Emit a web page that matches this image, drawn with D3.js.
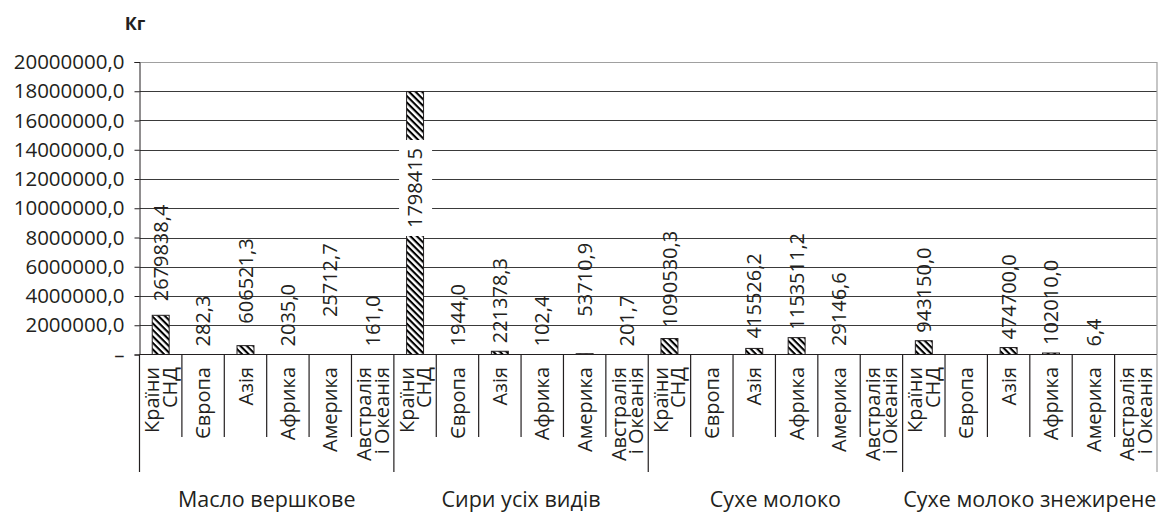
<!DOCTYPE html>
<html>
<head>
<meta charset="utf-8">
<script src="https://cdn.jsdelivr.net/npm/d3@7"></script>
<style>
  body { margin: 0; background: #fff; }
  svg { display: block; }
  text { font-family: "Open Sans", sans-serif; fill: #231f20; }
</style>
</head>
<body>
<svg id="chart" width="1159" height="514"></svg>
<script>
// data
const groups = ["Масло вершкове", "Сири усіх видів", "Сухе молоко", "Сухе молоко знежирене"];
const regions = [["Країни", "СНД"], ["Європа"], ["Азія"], ["Африка"], ["Америка"], ["Австралія", "і Океанія"]];

const butter = [2679838.4, 282.3, 606521.3, 2035.0, 25712.7, 161.0];
const cheese = [17984150.0, 1944.0, 221378.3, 102.4, 53710.9, 201.7];
const milk = [1090530.3, null, 415526.2, 1153511.2, 29146.6, null];
const skim = [943150.0, null, 474700.0, 102010.0, 6.4, null];

const yTicks = [0, 2000000, 4000000, 6000000, 8000000, 10000000, 12000000, 14000000, 16000000, 18000000, 20000000];

// labels as printed (the big cheese label got cut by its box)
const butterLabels = ["2679838,4", "282,3", "606521,3", "2035,0", "25712,7", "161,0"];
const cheeseLabels = ["1798415", "1944,0", "221378,3", "102,4", "53710,9", "201,7"];
const milkLabels = ["1090530,3", "", "415526,2", "1153511,2", "29146,6", ""];
const skimLabels = ["943150,0", "", "474700,0", "102010,0", "6,4", ""];

const series = [butter, cheese, milk, skim];
const seriesLabels = [butterLabels, cheeseLabels, milkLabels, skimLabels];

// flatten into one row per category
const rows = [];
series.forEach((vals, g) => {
  vals.forEach((v, i) => {
    rows.push({ key: g * 6 + i, group: g, region: regions[i], value: v, label: seriesLabels[g][i] });
  });
});

// hand-moved labels in the original (px up from the default spot)
const labelNudge = { 0: 6, 2: 14, 4: 29, 10: 29, 12: 3, 14: 2 };

const svg = d3.select("#chart");
const plotL = 139.5, plotR = 1157, plotT = 62, plotB = 354.5;

const x = d3.scaleBand()
  .domain(rows.map(d => d.key))
  .range([plotL, plotR]);

const y = d3.scaleLinear()
  .domain([0, 20000000])
  .range([plotB, plotT]);

const defs = svg.append("defs");
const pat = defs.append("pattern")
  .attr("id", "hatch")
  .attr("patternUnits", "userSpaceOnUse")
  .attr("width", 4.6)
  .attr("height", 4.6)
  .attr("patternTransform", "rotate(45)");
pat.append("rect").attr("width", 4.6).attr("height", 4.6).attr("fill", "#fff");
pat.append("rect").attr("width", 4.6).attr("height", 2.1).attr("fill", "#000");

// grid
svg.append("g")
  .selectAll("line")
  .data(yTicks.slice(1, -1))
  .join("line")
  .attr("x1", plotL)
  .attr("x2", plotR)
  .attr("y1", d => Math.round(y(d)) + 0.5)
  .attr("y2", d => Math.round(y(d)) + 0.5)
  .attr("stroke", "#3a3a3a")
  .attr("stroke-width", 1);

// plot border (top + right)
svg.append("path")
  .attr("d", `M${plotL},${plotT + 0.5}H${plotR}V${plotB}`)
  .attr("fill", "none")
  .attr("stroke", "#a0a0a0")
  .attr("stroke-width", 1.2);

// y axis
const yAxis = d3.axisLeft(y)
  .tickValues(yTicks)
  .tickSize(5)
  .tickPadding(10)
  .tickFormat(d => d === 0 ? "–" : d3.format(".1f")(d).replace(".", ","));

svg.append("g")
  .attr("class", "y-axis")
  .attr("transform", `translate(${plotL},0)`)
  .call(yAxis)
  .call(g => g.select(".domain").attr("stroke", "#231f20"))
  .call(g => g.selectAll(".tick line").attr("stroke", "#231f20"))
  .call(g => g.selectAll("text")
    .attr("font-family", "Open Sans, sans-serif")
    .attr("font-size", 20.5)
    .attr("fill", "#231f20"));

svg.append("text")
  .attr("x", 135)
  .attr("y", 30)
  .attr("text-anchor", "middle")
  .attr("font-size", 18)
  .attr("font-weight", "bold")
  .text("Кг");

// bars (only the ones tall enough to show; tiny ones sit on the axis)
const barW = x.bandwidth() * 0.4;
svg.append("g")
  .selectAll("rect")
  .data(rows.filter(d => d.value != null && y(0) - y(d.value) > 0.5))
  .join("rect")
  .attr("x", d => x(d.key) + (x.bandwidth() - barW) / 2)
  .attr("y", d => y(d.value))
  .attr("width", barW)
  .attr("height", d => y(0) - y(d.value))
  .attr("fill", "url(#hatch)")
  .attr("stroke", "#231f20")
  .attr("stroke-width", 1);

// value labels, rotated
const cx = d => x(d.key) + x.bandwidth() / 2;
const labelBase = d => y(d.value) - 8 - (labelNudge[d.key] || 0);

const big = rows.find(d => d.key === 6);
svg.append("rect")
  .attr("x", cx(big) - 16)
  .attr("y", 140)
  .attr("width", 33)
  .attr("height", 96)
  .attr("fill", "#fff");

svg.append("g")
  .selectAll("text")
  .data(rows.filter(d => d.label))
  .join("text")
  .attr("transform", d => d.key === 6
    ? `translate(${cx(d)},228) rotate(-90)`
    : `translate(${cx(d)},${labelBase(d)}) rotate(-90)`)
  .attr("dy", "0.36em")
  .attr("font-size", 20)
  .text(d => d.label);

// x axis line
svg.append("line")
  .attr("x1", plotL)
  .attr("x2", plotR)
  .attr("y1", plotB)
  .attr("y2", plotB)
  .attr("stroke", "#231f20")
  .attr("stroke-width", 1.2);

// category separators, longer at group edges
const edges = d3.range(25);
svg.append("g")
  .selectAll("line")
  .data(edges)
  .join("line")
  .attr("x1", i => i === 24 ? plotR : x(i))
  .attr("x2", i => i === 24 ? plotR : x(i))
  .attr("y1", plotB)
  .attr("y2", i => i % 6 === 0 ? 472 : 437)
  .attr("stroke", i => i === 24 ? "#a0a0a0" : "#231f20")
  .attr("stroke-width", 1.2);

// region labels
const lh = 17.5;
svg.append("g")
  .selectAll("text")
  .data(rows)
  .join("text")
  .attr("transform", d => `translate(${cx(d)},367) rotate(-90)`)
  .attr("text-anchor", "end")
  .attr("font-size", 20)
  .selectAll("tspan")
  .data(d => d.region.map((t, i, a) => ({ t, off: (i - (a.length - 1) / 2) * lh })))
  .join("tspan")
  .attr("x", 0)
  .attr("y", d => d.off)
  .attr("dy", "0.36em")
  .text(d => d.t);

// group labels
svg.append("g")
  .selectAll("text")
  .data(groups)
  .join("text")
  .attr("x", (d, g) => (x(g * 6) + (g === 3 ? plotR : x(g * 6 + 6))) / 2)
  .attr("y", 507)
  .attr("text-anchor", "middle")
  .attr("font-size", 21.5)
  .text(d => d);
</script>
</body>
</html>
